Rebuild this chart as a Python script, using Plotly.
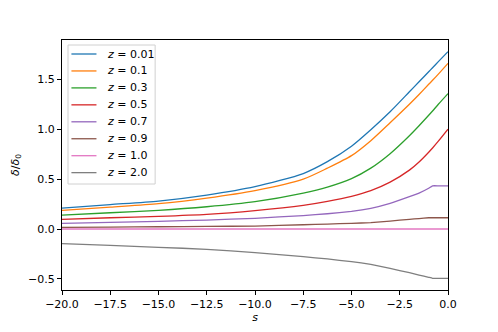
import plotly.graph_objects as go

# s grid (x values)
s_vals = [-20, -17.5, -15, -12.5, -10, -7.5, -6.25, -5, -4, -3, -2, -1.5, -1, -0.8, -0.5, 0]

z_labels = ["0.01", "0.1", "0.3", "0.5", "0.7", "0.9", "1.0", "2.0"]

d_z001 = [0.21, 0.245, 0.28, 0.34, 0.424, 0.556, 0.675, 0.83, 0.995, 1.175, 1.375, 1.475, 1.576, 1.616, 1.677, 1.777]
d_z01 = [0.187, 0.22, 0.254, 0.31, 0.385, 0.50, 0.61, 0.735, 0.885, 1.065, 1.25, 1.348, 1.45, 1.49, 1.552, 1.66]
d_z03 = [0.14, 0.163, 0.187, 0.223, 0.274, 0.36, 0.42, 0.505, 0.61, 0.755, 0.935, 1.035, 1.14, 1.183, 1.25, 1.357]
d_z05 = [0.097, 0.113, 0.127, 0.147, 0.185, 0.238, 0.278, 0.328, 0.385, 0.47, 0.59, 0.672, 0.77, 0.812, 0.88, 1.0]
d_z07 = [0.057, 0.066, 0.077, 0.09, 0.107, 0.135, 0.153, 0.176, 0.207, 0.257, 0.324, 0.36, 0.408, 0.433, 0.433, 0.433]
d_z09 = [0.017, 0.02, 0.023, 0.026, 0.03, 0.043, 0.05, 0.057, 0.064, 0.08, 0.097, 0.105, 0.113, 0.113, 0.113, 0.113]
d_z10 = [0, 0, 0, 0, 0, 0, 0, 0, 0, 0, 0, 0, 0, 0, 0, 0]
d_z20 = [-0.147, -0.163, -0.183, -0.203, -0.237, -0.277, -0.30, -0.327, -0.354, -0.394, -0.438, -0.461, -0.484, -0.494, -0.494, -0.494]

series = [d_z001, d_z01, d_z03, d_z05, d_z07, d_z09, d_z10, d_z20]
colors = ["#1f77b4", "#ff7f0e", "#2ca02c", "#d62728", "#9467bd", "#8c564b", "#e377c2", "#7f7f7f"]
smooth = [0.7, 0.7, 0.7, 0.7, 0.25, 0.25, 0.7, 0.25]

x_ticks = [-20, -17.5, -15, -12.5, -10, -7.5, -5, -2.5, 0]
y_ticks = [-0.5, 0.0, 0.5, 1.0, 1.5]

fig = go.Figure()
for lab, ys, c, sm in zip(z_labels, series, colors, smooth):
    fig.add_trace(go.Scatter(
        x=s_vals, y=ys, mode="lines",
        line=dict(color=c, width=1.3, shape="spline", smoothing=sm),
        name="<i>z</i> = " + lab, showlegend=False,
    ))

font = dict(family="DejaVu Sans", size=11, color="black")

# legend drawn as a matplotlib-style box (paper coordinates)
shapes = [dict(type="rect", xref="paper", yref="paper",
               x0=0.0156, x1=0.2413, y0=0.424, y1=0.98,
               line=dict(color="#d0d0d0", width=1),
               fillcolor="rgba(255,255,255,0.8)", layer="above")]
annotations = []
y_first, y_step = 0.944, 0.0678
for i, (lab, c) in enumerate(zip(z_labels, colors)):
    yy = y_first - i * y_step
    shapes.append(dict(type="line", xref="paper", yref="paper",
                       x0=0.0244, x1=0.0893, y0=yy, y1=yy,
                       line=dict(color=c, width=1.3), layer="above"))
    annotations.append(dict(xref="paper", yref="paper", x=0.1108, y=yy,
                            xanchor="left", yanchor="middle", showarrow=False,
                            text="<i>z</i> = " + lab, font=font))

axis_common = dict(
    showline=True, linecolor="black", linewidth=1, mirror=True,
    ticks="outside", ticklen=4, tickwidth=1, tickcolor="black",
    showgrid=False, zeroline=False, tickfont=font, tickformat=".1f",
    automargin=False,
)
fig.update_layout(
    width=498, height=332,
    margin=dict(l=54, r=58, t=32, b=50),
    paper_bgcolor="white", plot_bgcolor="white",
    font=font,
    showlegend=False,
    shapes=shapes, annotations=annotations,
    xaxis=dict(range=[-20, 0], tickvals=x_ticks,
               title=dict(text="<i>s</i>", font=font, standoff=2), **axis_common),
    yaxis=dict(range=[-0.611, 1.894], tickvals=y_ticks,
               title=dict(text="<i>δ</i>/<i>δ</i><sub>0</sub>", font=font, standoff=6), **axis_common),
)

fig.write_html("out.html")
